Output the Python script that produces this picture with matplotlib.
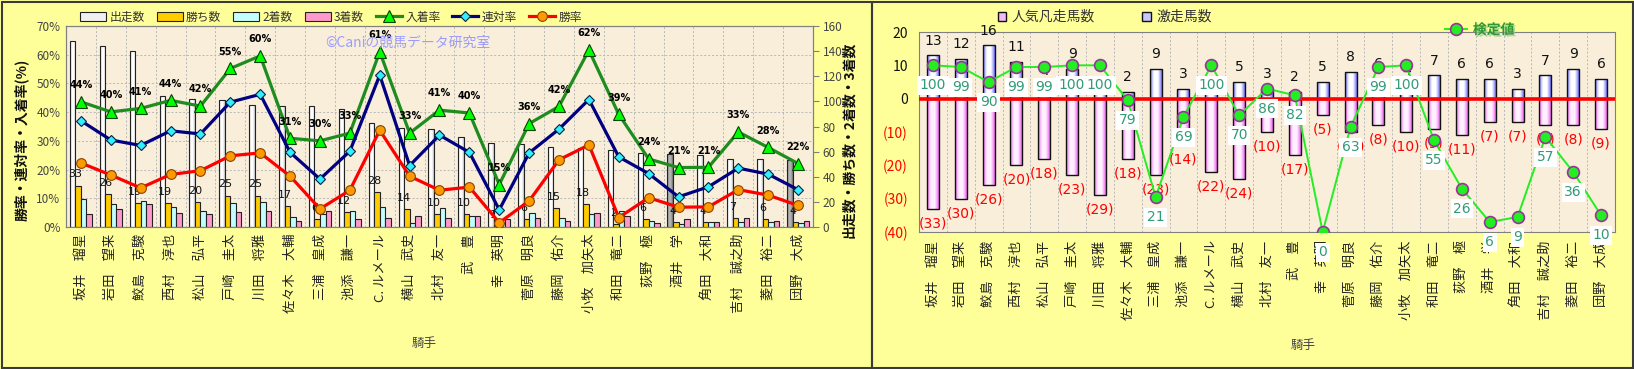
import numpy as np
import matplotlib
matplotlib.use('Agg')
import matplotlib.pyplot as plt
from matplotlib.patches import Rectangle
from matplotlib.colors import LinearSegmentedColormap
import matplotlib.patheffects as pe

plt.rcParams['font.family'] = ['Noto Sans CJK JP', 'DejaVu Sans']

# ---------------- data ----------------
jockeys = ['坂井　瑠星', '岩田　望来', '鮫島　克駿', '西村　淳也', '松山　弘平', '戸崎　圭太',
           '川田　将雅', '佐々木　大輔', '三浦　皇成', '池添　謙一', 'C. ルメール', '横山　武史',
           '北村　友一', '武　豊', '幸　英明', '菅原　明良', '藤岡　佑介', '小牧　加矢太',
           '和田　竜二', '荻野　極', '酒井　学', '角田　大和', '吉村　誠之助', '菱田　裕二', '団野　大成']

runs    = [148, 144, 140, 104, 102, 101, 97, 96, 96, 94, 83, 79, 78, 72, 67, 66, 64, 63, 61, 59, 58, 57, 54, 54, 53]
wins    = [33, 26, 19, 19, 20, 25, 25, 17, 6, 12, 28, 14, 10, 10, 1, 6, 15, 18, 2, 6, 4, 4, 7, 6, 4]
seconds = [22, 18, 21, 16, 13, 19, 20, 8, 10, 13, 16, 3, 15, 9, 3, 11, 7, 10, 13, 5, 2, 4, 4, 4, 3]
thirds  = [10, 14, 18, 11, 10, 12, 13, 5, 13, 6, 7, 9, 7, 9, 6, 7, 5, 11, 9, 3, 6, 4, 7, 5, 5]

win_rate   = [22.3, 18.1, 13.6, 18.3, 19.6, 24.8, 25.8, 17.7, 6.3, 12.8, 33.7, 17.7, 12.8, 13.9, 1.5,
              9.1, 23.4, 28.6, 3.3, 10.2, 6.9, 7.0, 13.0, 11.1, 7.5]
rentai     = [37.0, 30.3, 28.4, 33.5, 32.4, 43.5, 46.2, 26.0, 16.7, 26.4, 52.9, 21.4, 32.0, 26.0, 6.0,
              25.8, 34.1, 44.4, 24.4, 18.6, 10.5, 14.0, 20.5, 18.4, 13.0]
nyuchaku   = [43.6, 40.1, 41.3, 44.1, 42.1, 55.2, 59.6, 30.9, 30.0, 32.7, 61.0, 32.7, 40.7, 39.7, 14.8,
              36.0, 42.0, 61.6, 39.2, 23.7, 20.7, 20.8, 33.1, 27.7, 22.1]

gekisou = [13, 12, 16, 11, 4, 9, 5, 2, 9, 3, 5, 5, 3, 2, 5, 8, 6, 4, 7, 6, 6, 3, 7, 9, 6]
bonsou  = [33, 30, 26, 20, 18, 23, 29, 18, 23, 14, 22, 24, 10, 17, 5, 10, 8, 10, 9, 11, 7, 7, 8, 8, 9]
kentei  = [100, 99, 90, 99, 99, 100, 100, 79, 21, 69, 100, 70, 86, 82, 0, 63, 99, 100, 55, 26, 6, 9, 57, 36, 10]

HIGHLIGHT = ['酒井　学', '団野　大成']

# ---------------- figure ----------------
W, H = 1634, 369
fig = plt.figure(figsize=(W / 100, H / 100), dpi=100)
fig.patch.set_facecolor('#FFFF99')


def fx(px):
    return px / W


def fy(py):
    return 1 - py / H


fig.add_artist(Rectangle((fx(1.5), fy(367.5)), fx(871.5) - fx(1.5), fy(1.5) - fy(367.5),
                         transform=fig.transFigure, fill=False, ec='#3a3a3a', lw=1.5))
fig.add_artist(Rectangle((fx(872.5), fy(367.5)), fx(1632.5) - fx(872.5), fy(1.5) - fy(367.5),
                         transform=fig.transFigure, fill=False, ec='#3a3a3a', lw=1.5))


def gradient_fill(ax, bars, sides, mids, zorder=1.9):
    grad = np.linspace(0, 1, 100).reshape(1, -1)
    for b, cs, cm in zip(bars, sides, mids):
        x0, w = b.get_x(), b.get_width()
        y0, h = b.get_y(), b.get_height()
        if h == 0:
            continue
        cmap = LinearSegmentedColormap.from_list('g', [cs, cm, cm, cs])
        im = ax.imshow(grad, cmap=cmap, extent=[x0, x0 + w, min(y0, y0 + h), max(y0, y0 + h)],
                       aspect='auto', zorder=zorder, interpolation='bilinear')
        im.set_clip_path(b)
        b.set_facecolor('none')


n = len(jockeys)
x = np.arange(n)
TICK_C = '#444444'
GRID_C = '#B8B8B8'
PLOT_BG = '#F8EEDA'

# ================= LEFT CHART =================
axB = fig.add_axes([fx(66), fy(227), fx(813) - fx(66), fy(26) - fy(227)])
axB.set_facecolor(PLOT_BG)
bw = 0.185
run_colors = ['#A0A0A0' if j in HIGHLIGHT else '#F0F0F0' for j in jockeys]
b_run = axB.bar(x - 1.5 * bw, runs, bw, color=run_colors, ec='#222222', lw=0.8, label='出走数', zorder=2)
b_win = axB.bar(x - 0.5 * bw, wins, bw, color='#FFCC00', ec='#222222', lw=0.8, label='勝ち数', zorder=2)
b_2nd = axB.bar(x + 0.5 * bw, seconds, bw, color='#C4FFFF', ec='#222222', lw=0.8, label='2着数', zorder=2)
b_3rd = axB.bar(x + 1.5 * bw, thirds, bw, color='#FF99CC', ec='#222222', lw=0.8, label='3着数', zorder=2)

for i in range(n):
    axB.annotate(str(wins[i]), (x[i] - bw, wins[i]), xytext=(0, 8), textcoords='offset points',
                 ha='center', va='center', fontsize=8, family='DejaVu Sans', color='#111111', zorder=4)

axL = axB.twinx()
axL.patch.set_visible(False)
l_in, = axL.plot(x, nyuchaku, color='#1E8C1E', lw=2.3, marker='^', ms=8, mfc='#00FF00', mec='#004400',
                 mew=0.8, label='入着率', zorder=3)
l_ren, = axL.plot(x, rentai, color='#000080', lw=2.3, marker='D', ms=5.5, mfc='#33EEFF', mec='#002244',
                  mew=0.8, label='連対率', zorder=3)
l_win, = axL.plot(x, win_rate, color='#FF0000', lw=2.3, marker='o', ms=7, mfc='#FF9900', mec='#884400',
                  mew=0.8, label='勝率', zorder=3)
for i in range(n):
    axL.annotate(f'{nyuchaku[i]:.0f}%', (x[i], nyuchaku[i]), xytext=(0, 12), textcoords='offset points',
                 ha='center', va='center', fontsize=7, fontweight='bold', family='DejaVu Sans', zorder=5)

axB.set_xlim(-0.5, n - 0.5)
axB.set_ylim(0, 160)
axL.set_ylim(0, 70)
axB.yaxis.tick_right()
axL.yaxis.tick_left()
axB.set_yticks(range(0, 161, 20))
axB.set_yticks(np.linspace(0, 160, 8), minor=True)
axB.set_xticks(np.arange(-0.5, n, 1), minor=True)
axB.grid(which='minor', color=GRID_C, ls=(0, (2, 2)), lw=0.7)
axB.grid(which='major', visible=False)
axB.set_axisbelow(True)
axB.set_xticks(x)
axB.set_xticklabels(jockeys, rotation=90, fontsize=9.5, color='#222222')
axB.tick_params(axis='x', which='both', length=0, pad=5)
axB.tick_params(axis='y', which='minor', length=0)
axB.tick_params(axis='y', which='major', length=4, color='#808080', labelsize=8.5, labelcolor=TICK_C, pad=3)
axL.set_yticks(range(0, 71, 10))
axL.set_yticklabels([f'{v}%' for v in range(0, 71, 10)])
axL.tick_params(axis='y', length=0, labelsize=8.5, labelcolor=TICK_C, pad=4)
for ax in (axB, axL):
    for s in ax.spines.values():
        s.set_color('#808080')

leg = axL.legend([b_run, b_win, b_2nd, b_3rd, l_in, l_ren, l_win],
                 ['出走数', '勝ち数', '2着数', '3着数', '入着率', '連対率', '勝率'],
                 loc='center left', bbox_to_anchor=((80 - 66) / 747, (227 - 17) / 201), ncol=7,
                 frameon=False, fontsize=8.5, handlelength=2.2, handleheight=0.7, handletextpad=0.3,
                 columnspacing=1.0, borderaxespad=0, borderpad=0)
for t in leg.get_texts():
    t.set_color('#333333')

gradient_fill(axB, b_run,
              ['#707070' if j in HIGHLIGHT else '#C0C0C0' for j in jockeys],
              ['#B4B4B4' if j in HIGHLIGHT else '#FFFFFF' for j in jockeys])
axB.set_xlim(-0.5, n - 0.5)
axB.set_ylim(0, 160)

fig.text(fx(325), fy(43), '©Caniの競馬データ研究室', ha='left', va='center', fontsize=10, color='#9C9CFF')
fig.text(fx(21), fy(140), '勝率・連対率・入着率(%)', rotation=90, ha='center', va='center',
         fontsize=10, fontweight='bold', color='#111111')
fig.text(fx(849), fy(140), '出走数・勝ち数・2着数・3着数', rotation=90, ha='center', va='center',
         fontsize=10, fontweight='bold', color='#111111')
fig.text(fx(424), fy(344), '騎手', ha='center', va='center', fontsize=9, color='#444444')

# ================= RIGHT CHART =================
axR = fig.add_axes([fx(919), fy(232), fx(1615) - fx(919), fy(32) - fy(232)])
axR.set_facecolor(PLOT_BG)
rbw = 0.43
b_bon = axR.bar(x, [-v for v in bonsou], rbw, color='#F8B8F8', ec='#111111', lw=1.0, zorder=2,
                label='人気凡走馬数')
b_gek = axR.bar(x, gekisou, rbw, color='#C8C8FF', ec='#111111', lw=1.0, zorder=2, label='激走馬数')
axR.axhline(0, color='#FF0000', lw=2.6, zorder=3)

for i in range(n):
    axR.annotate(str(gekisou[i]), (x[i], gekisou[i]), xytext=(0, 10.5), textcoords='offset points',
                 ha='center', va='center', fontsize=10, family='DejaVu Sans', color='#111111', zorder=4)
    axR.annotate(f'({bonsou[i]})', (x[i], -bonsou[i]), xytext=(0, -10.5), textcoords='offset points',
                 ha='center', va='center', fontsize=10, family='DejaVu Sans', color='#FF0000', zorder=4)

axR.set_xlim(-0.5, n - 0.5)
axR.set_ylim(-40, 20)
yt = list(range(-40, 21, 10))
axR.set_yticks(yt)
axR.set_yticklabels([str(v) if v >= 0 else f'({-v})' for v in yt])
for t, v in zip(axR.get_yticklabels(), yt):
    t.set_color('#FF0000' if v < 0 else '#111111')
axR.tick_params(axis='y', length=0, labelsize=10, pad=8)
axR.set_xticks(np.arange(-0.5, n, 1), minor=True)
axR.set_yticks(np.arange(-40, 21, 10), minor=True)
axR.grid(which='minor', color=GRID_C, ls=(0, (2, 2)), lw=0.7)
axR.set_axisbelow(True)
axR.set_xticks(x)
axR.set_xticklabels(jockeys, rotation=90, fontsize=9.5, color='#222222')
axR.tick_params(axis='x', which='both', length=0, pad=6)
axR.tick_params(axis='y', which='minor', length=0)
for s in axR.spines.values():
    s.set_color('#808080')

leg1 = axR.legend([b_bon, b_gek], ['人気凡走馬数', '激走馬数'], loc='center left',
                  bbox_to_anchor=((998 - 919) / 696, (232 - 17) / 200), ncol=2, frameon=False,
                  fontsize=10, handlelength=0.6, handleheight=0.6, handletextpad=0.4, columnspacing=3.4,
                  borderaxespad=0, borderpad=0)
for t in leg1.get_texts():
    t.set_color('#333333')

gradient_fill(axR, b_gek, ['#7070FF'] * n, ['#FFFFFF'] * n)
gradient_fill(axR, b_bon, ['#F060F0'] * n, ['#FFF0FF'] * n)
axR.set_xlim(-0.5, n - 0.5)
axR.set_ylim(-40, 20)

axK = axR.twinx()
axK.patch.set_visible(False)
l_k, = axK.plot(x, kentei, color='#22EE22', lw=1.4, marker='o', ms=8.5, mfc='#22EE22', mec='#993399',
                mew=1.2, zorder=3, label='検定値')
for i in range(n):
    axK.annotate(str(kentei[i]), (x[i], kentei[i]), xytext=(0, -14.5), textcoords='offset points',
                 ha='center', va='center', fontsize=10, family='DejaVu Sans', color='#339977',
                 bbox=dict(boxstyle='square,pad=0.18', fc='white', ec='none'), zorder=5,
                 annotation_clip=False)
axK.set_ylim(0, 120)
axK.set_yticks([])
for s in axK.spines.values():
    s.set_visible(False)
leg2 = axK.legend([l_k], ['検定値'], loc='center left', bbox_to_anchor=((1445 - 919) / 696, (232 - 30) / 200),
                  frameon=False, fontsize=10, handlelength=1.6, handletextpad=0.4, borderaxespad=0, borderpad=0)
for t in leg2.get_texts():
    t.set_color('#2E9A2E')
    t.set_fontweight('bold')
    t.set_path_effects([pe.withSimplePatchShadow(offset=(1.2, -1.2), shadow_rgbFace='#99CC99', alpha=0.8)])

fig.text(fx(1303), fy(346), '騎手', ha='center', va='center', fontsize=9, color='#444444')

fig.savefig('out.png', dpi=100, facecolor=fig.get_facecolor())
